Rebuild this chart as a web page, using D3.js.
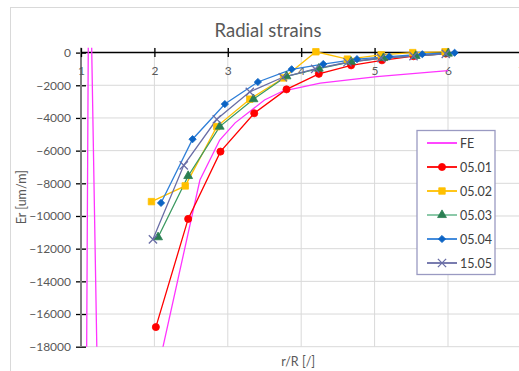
<!DOCTYPE html>
<html>
<head>
<meta charset="utf-8">
<script src="https://cdnjs.cloudflare.com/ajax/libs/d3/7.8.5/d3.min.js"></script>
<style>
  body { margin: 0; background: #fff; }
  text { font-family: Lato, "Open Sans", sans-serif; }
</style>
</head>
<body>
<div id="chart"></div>
<script>
// data
const seriesNames = ["FE", "05.01", "05.02", "05.03", "05.04", "15.05"];

const feX = [1.0, 1.11, 1.28, 2.62, 2.89, 3.10, 3.33, 3.50, 3.75, 4.26, 5.03, 6.0];
const feY = [-83000, 9600, -35000, -7800, -5350, -4300, -3500, -2900, -2350, -1870, -1470, -1100];

const s0501X = [2.02, 2.46, 2.90, 3.36, 3.80, 4.24, 4.68, 5.10, 5.53, 5.97];
const s0501Y = [-16800, -10180, -6060, -3710, -2250, -1300, -780, -470, -220, -60];

const s0502X = [1.96, 2.42, 2.85, 3.30, 3.76, 4.20, 4.63, 5.09, 5.52, 5.96];
const s0502Y = [-9120, -8160, -4530, -2850, -1550, 50, -400, -140, 0, 50];

const s0503X = [2.05, 2.46, 2.89, 3.35, 3.80, 4.24, 4.68, 5.12, 5.56, 6.00];
const s0503Y = [-11300, -7550, -4530, -2850, -1450, -980, -560, -330, -200, -60];

const s0504X = [2.09, 2.52, 2.96, 3.41, 3.87, 4.30, 4.76, 5.20, 5.65, 6.09];
const s0504Y = [-9200, -5300, -3150, -1800, -1020, -700, -400, -240, -100, -10];

const s1505X = [1.98, 2.40, 2.85, 3.30, 3.75, 4.19, 4.63, 5.09, 5.53, 5.97];
const s1505Y = [-11430, -6900, -4080, -2400, -1510, -1000, -590, -330, -220, -80];

const xTicks = [1, 2, 3, 4, 5, 6, 7];
const yTicks = [0, -2000, -4000, -6000, -8000, -10000, -12000, -14000, -16000, -18000];

const width = 519, height = 371;
const plotLeft = 81, plotRight = 521.4, plotTop = 47.7, plotBottom = 346.7;

const svg = d3.select("#chart")
  .append("svg")
  .attr("width", width)
  .attr("height", height);

// chart border (runs off the picture right and bottom)
svg.append("rect")
  .attr("x", 10.5).attr("y", 7.5)
  .attr("width", 600).attr("height", 400)
  .attr("fill", "#fff")
  .attr("stroke", "#d9d9d9");

const x = d3.scaleLinear().domain([1, 7]).range([plotLeft, plotRight]);
const y = d3.scaleLinear().domain([-18000, 300]).range([plotBottom, plotTop]);

// gridlines
svg.append("g")
  .selectAll("line")
  .data(yTicks.filter(d => d !== 0))
  .enter().append("line")
  .attr("x1", plotLeft).attr("x2", plotRight)
  .attr("y1", d => y(d)).attr("y2", d => y(d))
  .attr("stroke", "#d9d9d9");

svg.append("g")
  .selectAll("line")
  .data(xTicks.filter(d => d !== 1))
  .enter().append("line")
  .attr("x1", d => x(d)).attr("x2", d => x(d))
  .attr("y1", plotTop).attr("y2", plotBottom)
  .attr("stroke", "#d9d9d9");

// y axis: grey line, crossing ticks
const yAxis = svg.append("g")
  .attr("transform", "translate(" + plotLeft + ",0)")
  .call(d3.axisLeft(y).tickValues(yTicks).tickSize(0).tickPadding(10).tickFormat(d3.format("d")));
yAxis.select(".domain").remove();
yAxis.selectAll("text")
  .attr("fill", "#595959")
  .style("font-size", "12px");
yAxis.selectAll(".tick").append("line")
  .attr("x1", -5).attr("x2", 5)
  .attr("stroke", "#000")
  .attr("stroke-width", 1.3);
svg.append("line")
  .attr("x1", plotLeft).attr("x2", plotLeft)
  .attr("y1", plotTop).attr("y2", plotBottom)
  .attr("stroke", "#7f7f7f")
  .attr("stroke-width", 2);

// x axis sits on y = 0
const xAxis = svg.append("g")
  .attr("transform", "translate(0," + y(0) + ")")
  .call(d3.axisBottom(x).tickValues(xTicks).tickSize(0).tickPadding(14).tickFormat(d3.format("d")));
xAxis.select(".domain").remove();
xAxis.selectAll("text")
  .attr("fill", "#595959")
  .style("font-size", "12px");
xAxis.selectAll(".tick").append("line")
  .attr("y1", -4.5).attr("y2", 4.5)
  .attr("stroke", "#000")
  .attr("stroke-width", 1.3);
svg.append("line")
  .attr("x1", plotLeft).attr("x2", plotRight)
  .attr("y1", y(0)).attr("y2", y(0))
  .attr("stroke", "#000")
  .attr("stroke-width", 1.5);

// titles
svg.append("text")
  .attr("x", 268).attr("y", 37)
  .attr("text-anchor", "middle")
  .attr("fill", "#595959")
  .style("font-size", "18.5px")
  .text("Radial strains");

svg.append("text")
  .attr("transform", "translate(26," + ((plotTop + plotBottom) / 2) + ")rotate(-90)")
  .attr("text-anchor", "middle")
  .attr("fill", "#595959")
  .style("font-size", "12.5px")
  .text("Er [um/m]");

svg.append("text")
  .attr("x", (plotLeft + plotRight) / 2 - 3).attr("y", 366)
  .attr("text-anchor", "middle")
  .attr("fill", "#595959")
  .style("font-size", "12.5px")
  .text("r/R [/]");

// series
const zip = (xs, ys) => xs.map((v, i) => ({ x: v, y: ys[i] }));
const series = [
  { name: seriesNames[0], pts: zip(feX, feY), color: "#ff33ff", marker: null },
  { name: seriesNames[1], pts: zip(s0501X, s0501Y), color: "#ff0000", marker: "circle", fill: "#ff0000" },
  { name: seriesNames[2], pts: zip(s0502X, s0502Y), color: "#ffc000", marker: "square", fill: "#ffc000" },
  { name: seriesNames[3], pts: zip(s0503X, s0503Y), color: "#3d9a62", marker: "triangle", fill: "#2a7f52" },
  { name: seriesNames[4], pts: zip(s0504X, s0504Y), color: "#2f7fd8", marker: "diamond", fill: "#0b63c4" },
  { name: seriesNames[5], pts: zip(s1505X, s1505Y), color: "#6a6ea6", marker: "cross", fill: "#6a6ea6" },
];

svg.append("clipPath").attr("id", "plot")
  .append("rect")
  .attr("x", plotLeft).attr("y", plotTop)
  .attr("width", plotRight - plotLeft).attr("height", plotBottom - plotTop);

const line = d3.line()
  .x(d => x(d.x))
  .y(d => y(d.y));

const symbols = {
  circle: d3.symbol().type(d3.symbolCircle).size(40),
  square: d3.symbol().type(d3.symbolSquare).size(42),
  triangle: d3.symbol().type(d3.symbolTriangle).size(34),
  diamond: d3.symbol().type(d3.symbolSquare).size(26),
  cross: d3.symbol().type(d3.symbolX).size(46),
};

function drawMarker(g, s, cx, cy) {
  const p = g.append("path")
    .attr("transform", "translate(" + cx + "," + cy + ")" + (s.marker === "diamond" ? "rotate(45)" : ""))
    .attr("d", symbols[s.marker]());
  if (s.marker === "cross") {
    p.attr("fill", "none").attr("stroke", s.fill).attr("stroke-width", 1.3);
  } else {
    p.attr("fill", s.fill).attr("stroke", s.fill).attr("stroke-width", 0.8);
  }
}

series.forEach(s => {
  svg.append("path")
    .datum(s.pts)
    .attr("clip-path", "url(#plot)")
    .attr("fill", "none")
    .attr("stroke", s.color)
    .attr("stroke-width", 1.3)
    .attr("d", line);
});

series.forEach(s => {
  if (!s.marker) return;
  const g = svg.append("g");
  s.pts.forEach(d => drawMarker(g, s, x(d.x), y(d.y)));
});

// legend
const legend = svg.append("g");
legend.append("rect")
  .attr("x", 417).attr("y", 130.5)
  .attr("width", 78).attr("height", 144)
  .attr("fill", "#fff")
  .attr("stroke", "#9a9ac2")
  .attr("stroke-width", 1.3);

series.forEach((s, i) => {
  const ly = 143 + i * 24;
  legend.append("line")
    .attr("x1", 427).attr("x2", 457)
    .attr("y1", ly).attr("y2", ly)
    .attr("stroke", s.name === "05.03" ? "#7fc3a0" : s.color)
    .attr("stroke-width", 1.8);
  if (s.marker) drawMarker(legend, s, 442, ly);
  legend.append("text")
    .attr("x", 460).attr("y", ly + 4.5)
    .attr("fill", "#404040")
    .style("font-size", "12.5px")
    .text(s.name);
});
</script>
</body>
</html>
